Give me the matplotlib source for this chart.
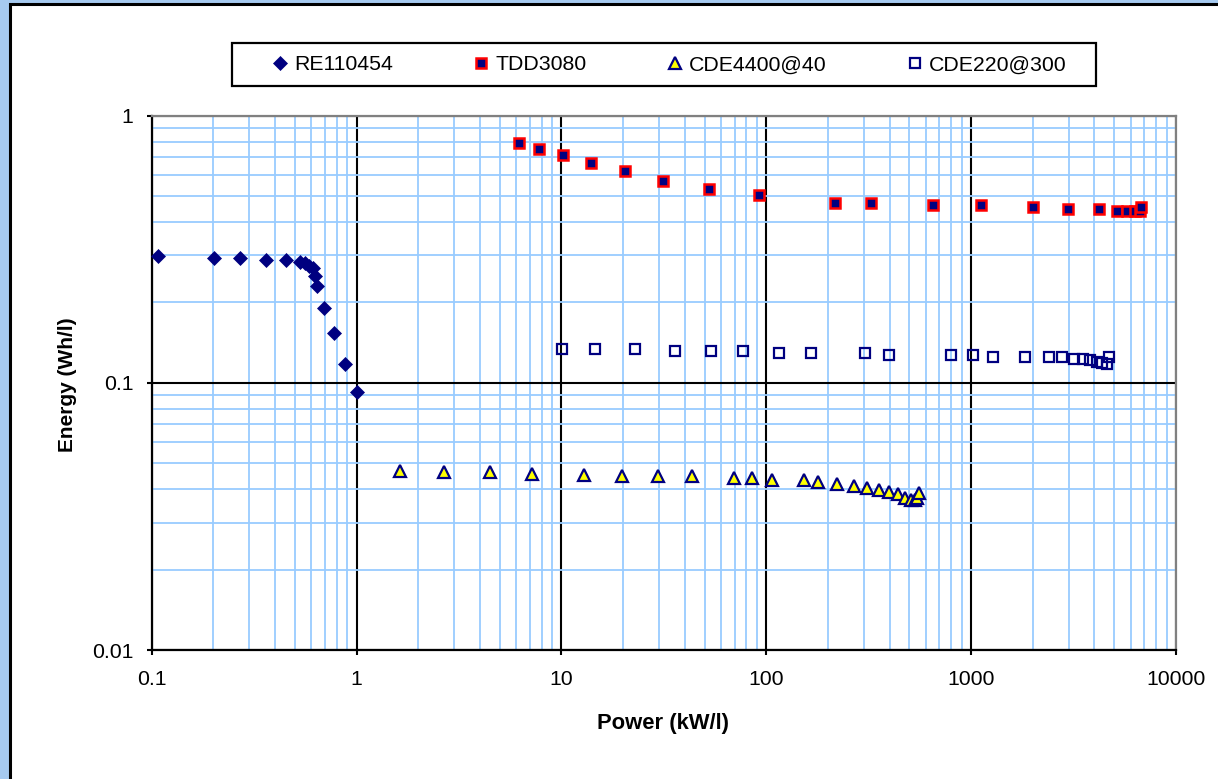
import numpy as np
import matplotlib
matplotlib.use("Agg")
import matplotlib.pyplot as plt
from matplotlib.patches import Rectangle
from matplotlib.ticker import LogLocator, FixedLocator, FixedFormatter, NullFormatter

plt.rcParams['font.family'] = ['Liberation Sans', 'DejaVu Sans']

# ---------------- data ----------------
re_power = [0.107, 0.201, 0.270, 0.361, 0.452, 0.530, 0.560, 0.586, 0.612, 0.627,
            0.641, 0.693, 0.777, 0.877, 1.00]
re_energy = [0.298, 0.293, 0.293, 0.288, 0.288, 0.283, 0.281, 0.274, 0.269, 0.251,
             0.230, 0.191, 0.154, 0.118, 0.0924]

tdd_power = [6.20, 7.76, 10.2, 13.9, 20.4, 31.3, 52.5, 92.0, 216, 324, 650, 1115,
             2000, 2987, 4205, 5150, 5755, 6300, 6665, 6740]
tdd_energy = [0.790, 0.750, 0.713, 0.665, 0.621, 0.569, 0.531, 0.504, 0.471, 0.471,
              0.463, 0.463, 0.455, 0.449, 0.449, 0.441, 0.441, 0.441, 0.441, 0.455]

cde4400_power = [1.63, 2.66, 4.47, 7.20, 12.9, 19.8, 29.6, 43.2, 69.4, 84.8, 107, 152,
                 178, 221, 267, 311, 356, 399, 439, 478, 510, 533, 545, 554]
cde4400_energy = [0.0469, 0.0463, 0.0463, 0.0456, 0.0453, 0.0448, 0.0448, 0.0448,
                  0.0439, 0.0439, 0.0433, 0.0433, 0.0427, 0.0417, 0.0411, 0.0403,
                  0.0397, 0.0390, 0.0383, 0.0370, 0.0364, 0.0364, 0.0370, 0.0386]

cde220_power = [10.05, 14.6, 22.8, 35.8, 53.7, 76.9, 115, 165, 303, 397, 797, 1020,
                1277, 1829, 2398, 2774, 3176, 3515, 3802, 4112, 4349, 4603, 4707]
cde220_energy = [0.1339, 0.1339, 0.1339, 0.1315, 0.1315, 0.1315, 0.1293, 0.1293,
                 0.1293, 0.1271, 0.1271, 0.1271, 0.1250, 0.1250, 0.1250, 0.1250,
                 0.1228, 0.1228, 0.1218, 0.1198, 0.1187, 0.1172, 0.1247]

series_names = ["RE110454", "TDD3080", "CDE4400@40", "CDE220@300"]

x_ticks = [0.1, 1, 10, 100, 1000, 10000]
x_tick_labels = ["0.1", "1", "10", "100", "1000", "10000"]
y_ticks = [0.01, 0.1, 1]
y_tick_labels = ["0.01", "0.1", "1"]

x_label = "Power (kW/l)"
y_label = "Energy (Wh/l)"

# ---------------- figure ----------------
W, H = 1218, 779
fig = plt.figure(figsize=(W / 100, H / 100), dpi=100)
fig.patch.set_facecolor('#A6CAF0')

# white panel with black border
panel = Rectangle((10 / W, -0.1), 1.2, 1 - 4 / H + 0.1, transform=fig.transFigure,
                  facecolor='white', edgecolor='black', linewidth=2.2, zorder=-10)
fig.patches.append(panel)

ax = fig.add_axes([151.7 / W, 1 - 650 / H, 1024.3 / W, 534.3 / H])
ax.set_facecolor('white')
ax.set_xscale('log')
ax.set_yscale('log')
ax.set_xlim(0.1, 10000)
ax.set_ylim(0.01, 1)

ax.set_axisbelow(True)
ax.xaxis.set_minor_locator(LogLocator(base=10, subs=np.arange(2, 10), numticks=100))
ax.yaxis.set_minor_locator(LogLocator(base=10, subs=np.arange(2, 10), numticks=100))
ax.xaxis.set_minor_formatter(NullFormatter())
ax.yaxis.set_minor_formatter(NullFormatter())
ax.grid(which='minor', color='#99CCFF', linewidth=1.3)
ax.grid(which='major', color='black', linewidth=1.5)

ax.xaxis.set_major_locator(FixedLocator(x_ticks))
ax.xaxis.set_major_formatter(FixedFormatter(x_tick_labels))
ax.yaxis.set_major_locator(FixedLocator(y_ticks))
ax.yaxis.set_major_formatter(FixedFormatter(y_tick_labels))

ax.tick_params(which='major', direction='out', length=3.6, width=1.5, color='black',
               labelsize=15.3, labelcolor='black')
ax.tick_params(axis='x', which='major', pad=10.5)
ax.tick_params(axis='y', which='major', pad=9.5)
ax.tick_params(which='minor', length=0)

for s in ['left', 'bottom']:
    ax.spines[s].set_color('black')
    ax.spines[s].set_linewidth(1.6)
for s in ['top', 'right']:
    ax.spines[s].set_color('#808080')
    ax.spines[s].set_linewidth(1.6)

navy = '#000080'
ax.plot(re_power, re_energy, linestyle='none', marker='D', markersize=7.2,
        markerfacecolor=navy, markeredgecolor=navy, markeredgewidth=0.5,
        label=series_names[0], zorder=3, clip_on=False)
ax.plot(tdd_power, tdd_energy, linestyle='none', marker='s', markersize=7.6,
        markerfacecolor=navy, markeredgecolor='#FF0000', markeredgewidth=1.8,
        label=series_names[1], zorder=3, clip_on=False)
ax.plot(cde4400_power, cde4400_energy, linestyle='none', marker='^', markersize=9.2,
        markerfacecolor='#FFFF00', markeredgecolor=navy, markeredgewidth=1.6,
        label=series_names[2], zorder=3, clip_on=False)
ax.plot(cde220_power, cde220_energy, linestyle='none', marker='s', markersize=7.6,
        markerfacecolor='none', markeredgecolor=navy, markeredgewidth=1.6,
        label=series_names[3], zorder=3, clip_on=False)

ax.set_xlabel(x_label, fontsize=15.8, fontweight='bold')
ax.set_ylabel(y_label, fontsize=15, fontweight='bold')
ax.xaxis.set_label_coords(0.5 + (663 - 663.85) / 1024.3, -(713 - 650) / 534.3)
ax.yaxis.set_label_coords(-(151.7 - 77) / 1024.3, (650 - 385) / 534.3)

# legend (frameless) + separate box
leg = fig.legend(loc='center', bbox_to_anchor=(669 / W, 1 - 65 / H),
                 bbox_transform=fig.transFigure, ncol=4, frameon=False,
                 fontsize=15.3, handlelength=0.8, handletextpad=0.25,
                 columnspacing=3.77, borderpad=0.2)
legbox = Rectangle((231.7 / W, 1 - 86 / H), 863.8 / W, 42.7 / H,
                   transform=fig.transFigure, fill=False, edgecolor='black',
                   linewidth=1.6, zorder=5)
fig.patches.append(legbox)

fig.savefig('out.png', dpi=100, facecolor=fig.get_facecolor())
